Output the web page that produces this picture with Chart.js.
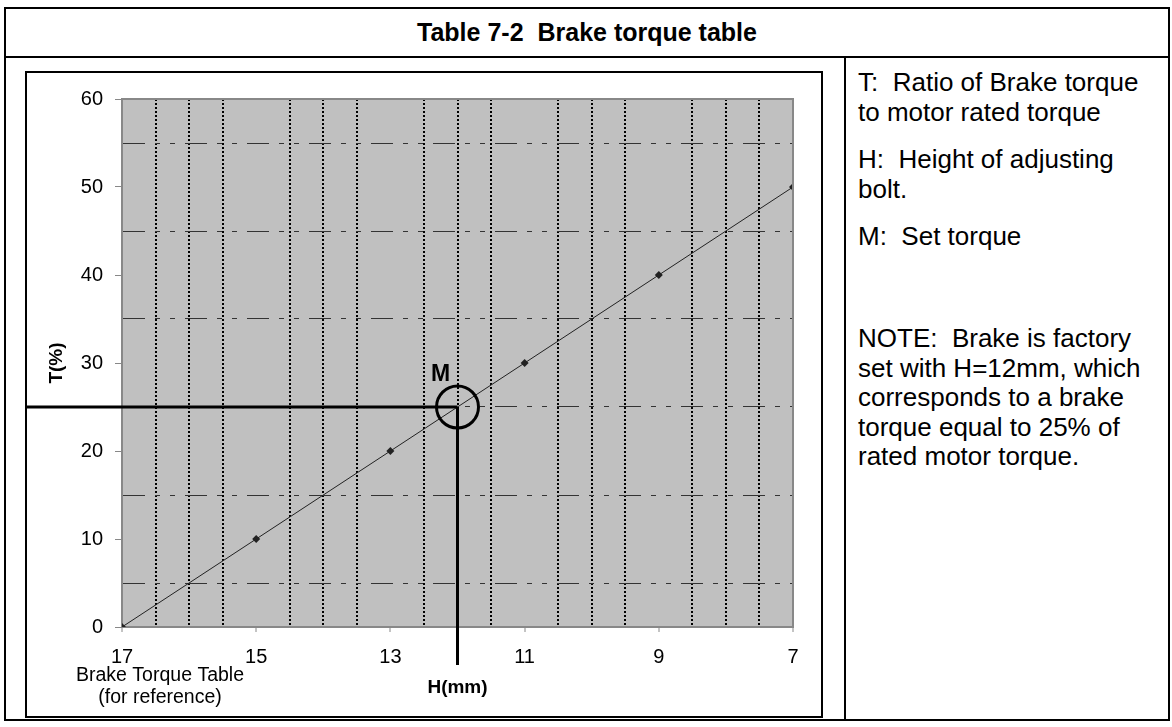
<!DOCTYPE html>
<html>
<head>
<meta charset="utf-8">
<title>Table 7-2 Brake torque table</title>
<script src="https://cdn.jsdelivr.net/npm/chart.js@4.4.1/dist/chart.umd.min.js"></script>
<style>
  html, body { margin: 0; padding: 0; background: #fff; }
  body { width: 1172px; height: 727px; position: relative; overflow: hidden;
         font-family: "Liberation Sans", Arial, sans-serif; color: #000; }
  .frame { position: absolute; left: 4px; top: 7px; width: 1162px; height: 710px; border: 2px solid #000; }
  .rule-h { position: absolute; left: 4px; top: 56px; width: 1166px; height: 2px; background: #000; }
  .rule-v { position: absolute; left: 844px; top: 56px; width: 2px; height: 665px; background: #000; }
  .caption { position: absolute; left: 4px; top: 9px; width: 1166px; height: 47px; line-height: 47px;
             text-align: center; font-weight: bold; font-size: 25px; white-space: pre; }
  .chart-box { position: absolute; left: 25px; top: 71px; width: 794px; height: 643px; border: 2px solid #000; }
  .note { position: absolute; left: 858px; margin: 0; font-size: 26px; line-height: 30px; white-space: pre; }
</style>
</head>
<body>
<div class="frame"></div>
<div class="rule-h"></div>
<div class="rule-v"></div>
<div class="caption">Table 7-2  Brake torque table</div>
<div class="chart-box"><canvas id="torque" width="794" height="643"></canvas></div>
<p class="note" style="top:67px">T:  Ratio of Brake torque
to motor rated torque</p>
<p class="note" style="top:144px">H:  Height of adjusting
bolt.</p>
<p class="note" style="top:221px">M:  Set torque</p>
<p class="note" style="top:324px; line-height:29.5px">NOTE:  Brake is factory
set with H=12mm, which
corresponds to a brake
torque equal to 25% of
rated motor torque.</p>
<script>
// adjusting bolt height (mm) vs. brake torque (% of rated)
const heightMm  = [17, 15, 13, 11, 9, 7];
const torquePct = [0, 10, 20, 30, 40, 50];

// factory setting "M"
const setHeight = 12;
const setTorque = 25;

const xTicks = [17, 15, 13, 11, 9, 7];
const yTicks = [0, 10, 20, 30, 40, 50, 60];

const FONT = '"Liberation Sans", Arial, sans-serif';
const NONE = 'rgba(0,0,0,0)';
Chart.defaults.font.family = FONT;
Chart.defaults.color = '#000';

// grey plot area + frame on top and right
const plotFrame = {
  id: 'plotFrame',
  beforeDraw(chart) {
    const { ctx, chartArea: a } = chart;
    ctx.save();
    ctx.fillStyle = '#c0c0c0';
    ctx.fillRect(a.left, a.top, a.right - a.left, a.bottom - a.top);
    ctx.restore();
  },
  afterDatasetsDraw(chart) {
    const { ctx, chartArea: a } = chart;
    ctx.save();
    ctx.strokeStyle = '#888';
    ctx.lineWidth = 2;
    ctx.beginPath();
    ctx.moveTo(a.left, a.top);
    ctx.lineTo(a.right, a.top);
    ctx.lineTo(a.right, a.bottom);
    ctx.stroke();
    ctx.restore();
  },
};

// set-point marker: leader lines, circle and "M"
const setPoint = {
  id: 'setPoint',
  afterDraw(chart) {
    const { ctx, chartArea: a, scales: { x, y } } = chart;
    const px = x.getPixelForValue(setHeight);
    const py = y.getPixelForValue(setTorque);
    ctx.save();
    ctx.strokeStyle = '#000';
    ctx.lineWidth = 3;
    ctx.beginPath();
    ctx.moveTo(0, py);
    ctx.lineTo(px, py);
    ctx.moveTo(px, py);
    ctx.lineTo(px, a.bottom + 38);
    ctx.stroke();
    ctx.beginPath();
    ctx.arc(px, py, 21, 0, Math.PI * 2);
    ctx.stroke();
    ctx.fillStyle = '#000';
    ctx.font = 'bold 23px ' + FONT;
    ctx.textAlign = 'center';
    ctx.textBaseline = 'middle';
    ctx.fillText('M', px - 17, py - 32);

    // note under the first tick label
    ctx.font = '19.5px ' + FONT;
    ctx.fillText('Brake Torque Table', 133, 603);
    ctx.fillText('(for reference)', 133, 625);
    ctx.restore();
  },
};

new Chart(document.getElementById('torque'), {
  type: 'line',
  data: {
    datasets: [{
      data: heightMm.map((h, i) => ({ x: h, y: torquePct[i] })),
      borderColor: '#222',
      borderWidth: 1,
      pointStyle: 'rectRot',
      pointRadius: 4,
      pointBackgroundColor: '#222',
      pointBorderWidth: 0,
      tension: 0,
    }],
  },
  options: {
    responsive: false,
    animation: false,
    layout: { padding: { left: 0, top: 26, right: 28, bottom: 0 } },
    plugins: { legend: { display: false }, tooltip: { enabled: false } },
    scales: {
      x: {
        type: 'linear',
        reverse: true,
        min: 7, max: 17,
        afterFit: s => { s.height = 89; },
        ticks: {
          stepSize: 0.5, autoSkip: false, maxRotation: 0, padding: 13,
          font: { size: 20 },
          callback: v => (xTicks.includes(v) ? String(v) : ''),
        },
        grid: {
          color: c => (xTicks.includes(c.tick.value) ? NONE : '#000'),
          lineWidth: 2,
          tickLength: 5,
          tickWidth: 1,
          tickColor: c => (xTicks.includes(c.tick.value) ? '#888' : NONE),
        },
        border: { color: '#888', width: 2, dash: [2, 2] },
        title: { display: true, text: 'H(mm)', font: { size: 19, weight: 'bold' }, padding: { top: 0, bottom: 17 } },
      },
      y: {
        min: 0, max: 60,
        afterFit: s => { s.width = 95; },
        ticks: {
          stepSize: 5, autoSkip: false, padding: 12,
          font: { size: 20 },
          callback: v => (yTicks.includes(v) ? String(v) : ''),
        },
        grid: {
          color: c => (yTicks.includes(c.tick.value) ? NONE : '#333'),
          lineWidth: 1,
          tickLength: 7,
          tickWidth: 1,
          tickColor: c => (yTicks.includes(c.tick.value) ? '#888' : NONE),
        },
        border: { color: '#888', width: 2, dash: [22, 10, 5, 10, 5, 10] },
        title: { display: true, text: 'T(%)', font: { size: 19, weight: 'bold' }, padding: { top: 18, bottom: 0 } },
      },
    },
  },
  plugins: [plotFrame, setPoint],
});
</script>
</body>
</html>
